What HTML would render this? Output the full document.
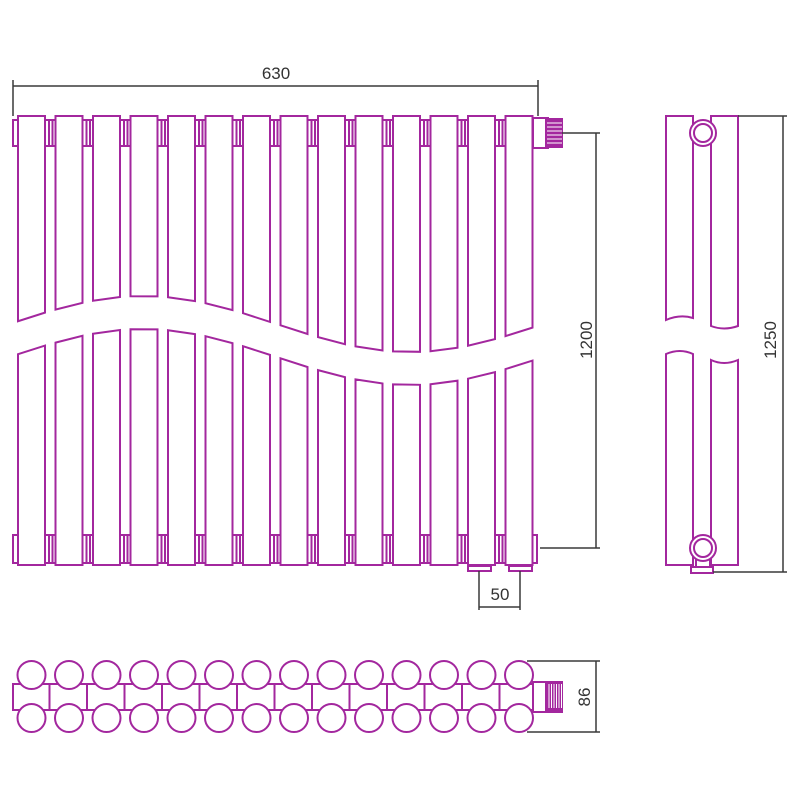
<!DOCTYPE html><html><head><meta charset="utf-8"><style>body{margin:0;background:#fff}svg{display:block}</style></head><body>
<svg id="s" width="800" height="800" xmlns="http://www.w3.org/2000/svg" font-family="Liberation Sans, sans-serif">
<g id="m" fill="#fff" stroke="#a3279e" stroke-width="2"></g>
<g stroke="#3a3a3a" stroke-width="1.5" fill="none">
<path d="M13 116V80M538 116V80M13 86H538"/>
<path d="M562 133H600M540 548H600M596 133V548"/>
<path d="M479 571V610M520 571V610M479 607H520"/>
<path d="M738 116H787M713 572H787M783 116V572"/>
<path d="M527 661H600M527 732H600M596 661V732"/>
</g>
<g fill="#333" font-size="17">
<text x="276" y="79" text-anchor="middle">630</text>
<text x="500" y="600" text-anchor="middle">50</text>
<text transform="translate(592,340) rotate(-90)" text-anchor="middle">1200</text>
<text transform="translate(776,340) rotate(-90)" text-anchor="middle">1250</text>
<text transform="translate(590,697) rotate(-90)" text-anchor="middle">86</text>
</g>
</svg>
<script>
var g=document.getElementById('m'),h='';
function yU(x){return 324-28*Math.cos(Math.PI*(x-143)/267);}
h+='<rect x="13" y="120" width="524" height="26"/><rect x="13" y="535" width="524" height="28"/>';
for(var i=0;i<13;i++){var gx=45+37.5*i;h+='<path d="M'+(gx+4)+' 120V146M'+(gx+7.5)+' 120V146M'+(gx+4)+' 535V563M'+(gx+7.5)+' 535V563"/>';}
for(var i=0;i<14;i++){var a=18+37.5*i,b=a+27;
h+='<path d="M'+a+' 116H'+b+'V'+yU(b).toFixed(1)+'L'+a+' '+yU(a).toFixed(1)+'Z"/>';
h+='<path d="M'+a+' '+(yU(a)+33).toFixed(1)+'L'+b+' '+(yU(b)+33).toFixed(1)+'V565H'+a+'Z"/>';}
h+='<rect x="468" y="566" width="23" height="5"/><rect x="509" y="566" width="23" height="5"/>';
h+='<rect x="533" y="118" width="15" height="30"/><rect x="546" y="119" width="16" height="28" fill="#a3279e"/>';
for(var k=0;k<6;k++)h+='<line x1="547" x2="562" y1="'+(123+k*4)+'" y2="'+(123+k*4)+'" stroke="#fff" stroke-width="1"/>';
// side view
h+='<path d="M666 116H693V318Q680 314 666 320Z"/><path d="M711 116H738V326Q724 331 711 326Z"/>';
h+='<path d="M666 354Q680 348 693 354V565H666Z"/><path d="M711 360Q724 366 738 360V565H711Z"/>';
h+='<circle cx="703" cy="133" r="13"/><circle cx="703" cy="133" r="9"/>';
h+='<rect x="696" y="555" width="14" height="12"/><rect x="691" y="567" width="22" height="6"/>';
h+='<circle cx="703" cy="548" r="13"/><circle cx="703" cy="548" r="9"/>';
// top view
h+='<rect x="13" y="684" width="524" height="26"/>';
for(var i=0;i<14;i++){var cx=31.5+37.5*i;if(i<13)h+='<line x1="'+(cx+18)+'" y1="684" x2="'+(cx+18)+'" y2="710"/>';
h+='<circle cx="'+cx+'" cy="675" r="14"/><circle cx="'+cx+'" cy="718" r="14"/>';}
h+='<rect x="533" y="682" width="15" height="30"/><rect x="546" y="682" width="16" height="30" fill="#a3279e"/>';
for(var k=0;k<6;k++)h+='<line y1="684" y2="708" x1="'+(549+k*2.5)+'" x2="'+(549+k*2.5)+'" stroke="#fff" stroke-width="1"/>';
g.innerHTML=h;
</script>
</body></html>
